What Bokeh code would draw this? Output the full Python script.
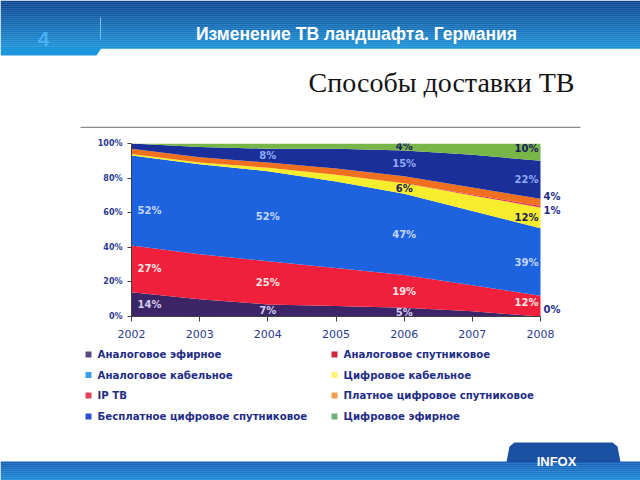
from bokeh.plotting import figure
from bokeh.layouts import column
from bokeh.models import Range1d, FixedTicker, Label, ColumnDataSource
from bokeh.core.properties import value
from bokeh.embed import file_html
from bokeh.resources import INLINE

# ---------------- data ----------------
years = [2002, 2003, 2004, 2005, 2006, 2007, 2008]
x_tick_labels = ["2002", "2003", "2004", "2005", "2006", "2007", "2008"]
y_ticks = [0, 20, 40, 60, 80, 100]
y_tick_labels = ["0%", "20%", "40%", "60%", "80%", "100%"]

series_names = [
    "Аналоговое эфирное",
    "Аналоговое спутниковое",
    "Аналоговое кабельное",
    "Цифровое кабельное",
    "IP ТВ",
    "Платное цифровое спутниковое",
    "Бесплатное цифровое спутниковое",
    "Цифровое эфирное",
]
analog_terrestrial = [14, 10, 7, 6, 5, 3, 0]
analog_satellite = [27, 26, 25, 22, 19, 15, 12]
analog_cable = [52, 52, 52, 50, 47, 43, 39]
digital_cable = [1, 1, 2, 4, 6, 9, 12]
ip_tv = [0, 0, 0, 0, 0, 0.5, 1]
pay_digital_sat = [3, 3, 3, 3.5, 4, 4, 4]
free_digital_sat = [3, 6, 8, 11.5, 15, 19, 22]
digital_terrestrial = [0, 2, 3, 3, 4, 6.5, 10]

series_values = [analog_terrestrial, analog_satellite, analog_cable, digital_cable,
                 ip_tv, pay_digital_sat, free_digital_sat, digital_terrestrial]

# which (year, series index) get a value label inside the areas
inside_labels = [(2002, 0), (2002, 1), (2002, 2),
                 (2004, 0), (2004, 1), (2004, 2), (2004, 6),
                 (2006, 0), (2006, 1), (2006, 2), (2006, 3), (2006, 6), (2006, 7),
                 (2008, 1), (2008, 2), (2008, 3), (2008, 6), (2008, 7)]
# labels drawn right of the last year
outside_labels = [0, 4, 5]

# ---------------- styles ----------------
W = 640
fill_colors = ["#3b2566", "#f0203c", "#1d63e0", "#f6ee2c", "#e8305a", "#f07020", "#1b2f9a", "#78b648"]
legend_colors = ["#5b4a80", "#d02838", "#3c9ee8", "#fff270", "#e8405a", "#f0a050", "#2a4fd0", "#6cb07c"]
label_colors = ["#d4cbef", "#ffe4e4", "#c4d6ff", "#1a2060", "#ffffff", "#ffffff", "#8fabf2", "#1a2060"]
navy = "#1f2d86"

# ---------------- header figure (pixel coordinates) ----------------
top = figure(width=W, height=128, x_range=Range1d(0, 640), y_range=Range1d(128, 0),
             output_backend="svg", toolbar_location=None, x_axis_type=None, y_axis_type=None,
             min_border=0, outline_line_color=None, title=None, frame_align=False)

def lerp(c1, c2, t):
    a = [int(c1[i:i + 2], 16) for i in (1, 3, 5)]
    b = [int(c2[i:i + 2], 16) for i in (1, 3, 5)]
    return "#%02x%02x%02x" % tuple(int(round(a[k] + (b[k] - a[k]) * t)) for k in range(3))

n = 24
strip_top = [i * 2 for i in range(n)]
strip_bot = [i * 2 + 2.2 for i in range(n)]
strip_col = [lerp("#0a4690", "#1e92d8", i / (n - 1)) for i in range(n)]
top.quad(left=0, right=640, top=strip_top, bottom=strip_bot, color=strip_col, line_color=None)
top.patch([0, 101, 96, 0], [47.5, 47.5, 55, 55], color="#1c96dc", line_color=None)
top.segment(x0=[100], y0=[17], x1=[100], y1=[39], line_color="#78c0f0", line_width=1)
top.text(x=[43], y=[38], text=["4"], text_align="center", text_baseline="middle",
         text_font=value("Liberation Sans"), text_font_style="bold", text_font_size="21px",
         text_color="#48b0f2")
top.text(x=[356], y=[33], text=["Изменение ТВ ландшафта. Германия"], text_align="center",
         text_baseline="middle", text_font=value("Liberation Sans"), text_font_style="bold",
         text_font_size="17.5px", text_color="#ffffff")
top.text(x=[441], y=[82], text=["Способы доставки ТВ"], text_align="center",
         text_baseline="middle", text_font=value("Liberation Serif"), text_font_size="28px",
         text_color="#141414")
top.segment(x0=[80], y0=[127], x1=[580], y1=[127], line_color="#8c8c8c", line_width=1.5)

# ---------------- chart figure ----------------
keys = ["s%d" % i for i in range(len(series_values))]
data = {"year": years}
for k, v in zip(keys, series_values):
    data[k] = v
src = ColumnDataSource(data)

# frame: x 131..600 px, 2002..2008 -> 131..540 px; y 143..316 px
x_end = years[-1] + 60.0 * (years[-1] - years[0]) / 409.0
p = figure(width=W, height=218, x_range=Range1d(years[0], x_end), y_range=Range1d(0, 100),
           output_backend="svg", toolbar_location=None, title=None, frame_align=False,
           min_border_left=131, min_border_right=40, min_border_top=15, min_border_bottom=30,
           outline_line_color=None)
p.varea_stack(stackers=keys, x="year", color=fill_colors, source=src)

p.xgrid.visible = False
p.ygrid.visible = False
p.xaxis.ticker = FixedTicker(ticks=years)
p.xaxis.bounds = (years[0], years[-1])
p.xaxis.major_label_overrides = {y: l for y, l in zip(years, x_tick_labels)}
p.xaxis.major_label_text_font = "DejaVu Sans"
p.xaxis.major_label_text_font_size = "11px"
p.xaxis.major_label_text_color = "#2b3a8f"
p.xaxis.major_label_standoff = 8
p.xaxis.major_tick_out = 5
p.xaxis.major_tick_in = 0
p.xaxis.minor_tick_line_color = None
p.xaxis.axis_line_color = "#404040"
p.xaxis.major_tick_line_color = "#404040"

p.yaxis.ticker = FixedTicker(ticks=y_ticks)
p.yaxis.major_label_overrides = {t: l for t, l in zip(y_ticks, y_tick_labels)}
p.yaxis.major_label_text_font = "DejaVu Sans"
p.yaxis.major_label_text_font_style = "bold"
p.yaxis.major_label_text_font_size = "8px"
p.yaxis.major_label_text_color = "#2b3990"
p.yaxis.major_label_standoff = 5
p.yaxis.major_tick_out = 4
p.yaxis.major_tick_in = 0
p.yaxis.minor_tick_line_color = None
p.yaxis.axis_line_color = "#404040"
p.yaxis.major_tick_line_color = "#404040"

def band(year, idx):
    j = years.index(year)
    bottom = sum(series_values[k][j] for k in range(idx))
    v = series_values[idx][j]
    return bottom, v

y_shift = {(2002, 2): -10, (2008, 7): 4, (2008, 1): 4}
for (yr, idx) in inside_labels:
    b, v = band(yr, idx)
    if yr == years[0]:
        align, xo = "left", 6
    elif yr == years[-1]:
        align, xo = "right", -2
    else:
        align, xo = "center", 0
    p.add_layout(Label(x=yr, y=b + v / 2, text="%g%%" % v, text_align=align, text_baseline="middle",
                       x_offset=xo, y_offset=y_shift.get((yr, idx), 0),
                       text_font="DejaVu Sans", text_font_style="bold", text_font_size="10px",
                       text_color=label_colors[idx]))

out_shift = {0: 2, 4: -4, 5: 6}
out_base = {0: "bottom", 4: "middle", 5: "middle"}
for idx in outside_labels:
    b, v = band(years[-1], idx)
    p.add_layout(Label(x=years[-1], y=b + v / 2, text="%g%%" % v, text_align="left",
                       text_baseline=out_base[idx], x_offset=3, y_offset=out_shift[idx],
                       text_font="DejaVu Sans", text_font_style="bold", text_font_size="10px",
                       text_color=navy))

# ---------------- legend + footer figure (pixel coordinates) ----------------
bot = figure(width=W, height=134, x_range=Range1d(0, 640), y_range=Range1d(480, 346),
             output_backend="svg", toolbar_location=None, x_axis_type=None, y_axis_type=None,
             min_border=0, outline_line_color=None, title=None, frame_align=False)

col_x = [88, 334]
row_y = [354, 374.5, 395, 416]
lx, ly, lt, lc = [], [], [], []
for i, name in enumerate(series_names):
    lx.append(col_x[i % 2])
    ly.append(row_y[i // 2])
    lt.append(name)
    lc.append(legend_colors[i])
bot.rect(x=lx, y=ly, width=6, height=6, color=lc, line_color=None)
bot.text(x=[x + 9 for x in lx], y=ly, text=lt, text_baseline="middle", text_align="left",
         text_font=value("DejaVu Sans"), text_font_style="bold", text_font_size="10.2px",
         text_color=navy)

nf = 10
f_top = [461 + i * 2 for i in range(nf)]
f_bot = [461 + i * 2 + 2.2 for i in range(nf)]
f_col = [lerp("#1560b8", "#1a8ad8", i / (nf - 1)) for i in range(nf)]
bot.quad(left=0, right=640, top=f_top, bottom=f_bot, color=f_col, line_color=None)
bot.patch([506, 509, 514, 612, 617, 620], [461.5, 446, 442, 442, 446, 461.5],
          color="#1a4fa2", line_color=None)
bot.text(x=[556], y=[461], text=["INFOX"], text_align="center", text_baseline="middle",
         text_font=value("Liberation Sans"), text_font_style="bold", text_font_size="13px",
         text_color="#ffffff")

layout = column(top, p, bot, spacing=0)
open("out.html", "w").write(file_html(layout, INLINE))
